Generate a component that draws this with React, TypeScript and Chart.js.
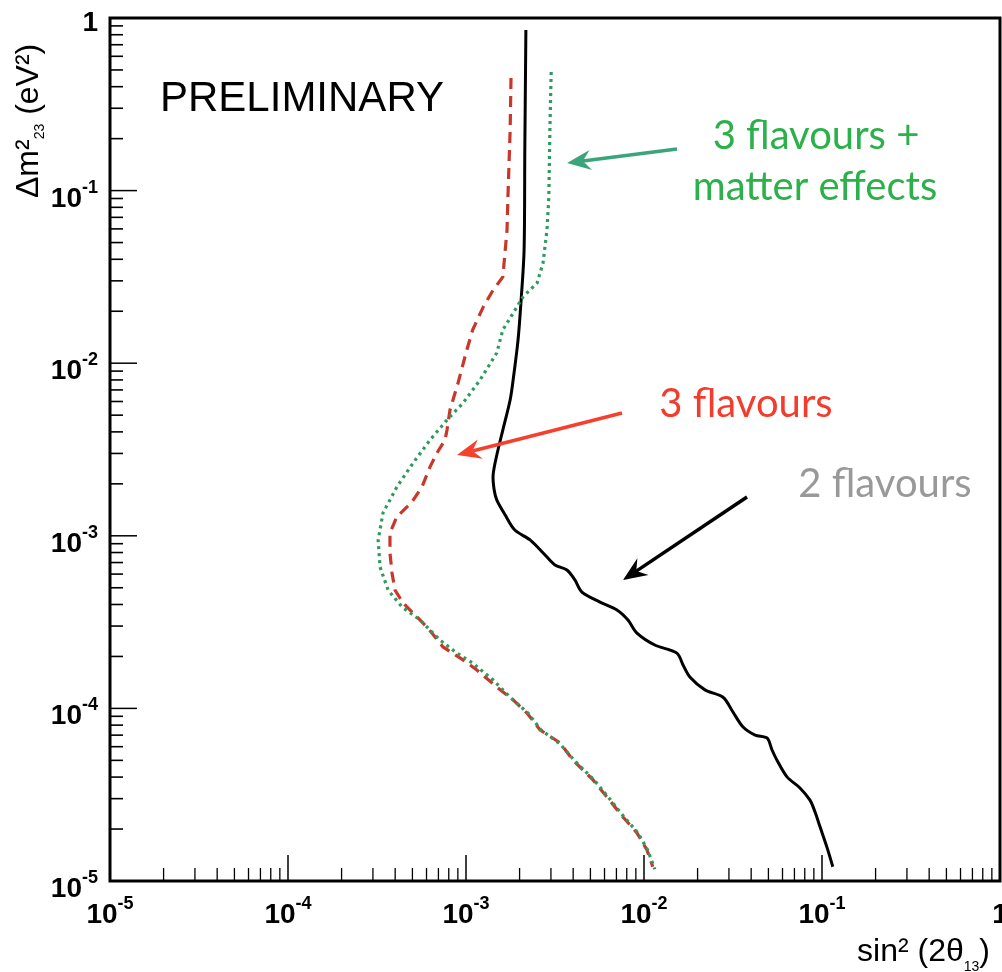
import React, { useEffect, useRef } from "react";
import { Chart, registerables } from "chart.js";

Chart.register(...registerables);

// ---- data ----
// 2 flavours (solid black)
const twoFlavX = [2.17e-3, 2.14e-3, 2.12e-3, 2.04e-3, 1.96e-3, 1.84e-3, 1.77e-3, 1.61e-3, 1.49e-3, 1.42e-3, 1.44e-3, 1.49e-3, 1.66e-3, 1.88e-3, 2.29e-3, 2.78e-3, 3.16e-3, 3.69e-3, 4.09e-3, 4.48e-3, 5.66e-3, 7.05e-3, 8.13e-3, 9.13e-3, 1.15e-2, 1.53e-2, 1.66e-2, 1.81e-2, 2.2e-2, 2.78e-2, 3.16e-2, 3.6e-2, 4.21e-2, 4.91e-2, 5.24e-2, 5.58e-2, 6.36e-2, 7.52e-2, 8.56e-2, 9.14e-2, 9.75e-2, 0.107, 0.115];
const twoFlavY = [0.852, 0.172, 0.0453, 0.0232, 0.0136, 8.0e-3, 6.12e-3, 4.1e-3, 2.94e-3, 2.25e-3, 1.84e-3, 1.61e-3, 1.32e-3, 1.08e-3, 9.46e-4, 7.74e-4, 6.77e-4, 6.34e-4, 5.55e-4, 4.72e-4, 4.13e-4, 3.72e-4, 3.25e-4, 2.73e-4, 2.33e-4, 2.09e-4, 1.78e-4, 1.52e-4, 1.28e-4, 1.16e-4, 9.53e-5, 7.8e-5, 7.01e-5, 6.74e-5, 5.74e-5, 5.02e-5, 4.01e-5, 3.46e-5, 2.94e-5, 2.51e-5, 2.06e-5, 1.55e-5, 1.21e-5];

// 3 flavours (dashed red)
const threeFlavX = [1.79e-3, 1.77e-3, 1.72e-3, 1.7e-3, 1.61e-3, 1.42e-3, 1.25e-3, 1.09e-3, 1.01e-3, 9.02e-4, 8.13e-4, 7.82e-4, 7.62e-4, 6.87e-4, 6.28e-4, 5.66e-4, 4.97e-4, 4.09e-4, 3.74e-4, 3.74e-4, 3.84e-4, 3.99e-4, 4.43e-4, 5.04e-4, 6.04e-4, 7.43e-4, 9.62e-4, 1.15e-3, 1.49e-3, 1.84e-3, 2.2e-3, 2.61e-3, 3.38e-3, 3.99e-3, 5.17e-3, 6.19e-3, 7.62e-3, 9.13e-3, 1.04e-2, 1.12e-2];
const threeFlavY = [0.449, 0.224, 0.0918, 0.0591, 0.0316, 0.0265, 0.0212, 0.0156, 0.0119, 7.68e-3, 5.36e-3, 4.1e-3, 3.59e-3, 3.02e-3, 2.51e-3, 1.92e-3, 1.57e-3, 1.29e-3, 1.04e-3, 7.95e-4, 6.09e-4, 4.85e-4, 4.08e-4, 3.57e-4, 2.96e-4, 2.27e-4, 1.91e-4, 1.67e-4, 1.33e-4, 1.12e-4, 9.4e-5, 7.5e-5, 6.31e-5, 5.02e-5, 3.85e-5, 3.07e-5, 2.35e-5, 1.9e-5, 1.51e-5, 1.21e-5];

// 3 flavours + matter effects (dotted green)
const matterX = [3.01e-3, 2.96e-3, 2.92e-3, 2.85e-3, 2.71e-3, 2.51e-3, 2.09e-3, 1.84e-3, 1.61e-3, 1.49e-3, 1.2e-3, 9.62e-4, 7.82e-4, 6.28e-4, 5.04e-4, 4.09e-4, 3.42e-4, 3.21e-4, 3.29e-4, 3.65e-4, 4.37e-4, 5.52e-4, 7.14e-4, 8.89e-4, 1.09e-3, 1.42e-3, 1.77e-3, 2.23e-3, 2.64e-3, 3.38e-3, 4.04e-3, 5.24e-3, 6.28e-3, 7.73e-3, 9.25e-3, 1.05e-2, 1.15e-2];
const matterY = [0.486, 0.224, 0.0918, 0.0591, 0.0381, 0.0292, 0.0242, 0.0195, 0.0156, 0.0115, 8.0e-3, 5.88e-3, 4.69e-3, 3.59e-3, 2.64e-3, 1.92e-3, 1.36e-3, 9.46e-4, 6.59e-4, 4.85e-4, 3.87e-4, 3.25e-4, 2.49e-4, 2.09e-4, 1.83e-4, 1.46e-4, 1.16e-4, 9.4e-5, 7.5e-5, 6.22e-5, 5.02e-5, 3.85e-5, 3.07e-5, 2.35e-5, 1.9e-5, 1.51e-5, 1.17e-5];

// axis ticks
const majorTicks = [1e-5, 1e-4, 1e-3, 1e-2, 1e-1, 1];
const tickBase = ["10", "10", "10", "10", "10", "1"];
const tickExp = ["-5", "-4", "-3", "-2", "-1", ""];
const minorMultipliers = [2, 3, 4, 5, 6, 7, 8, 9];

const BOLD = "bold 28px 'Liberation Sans', Arial, sans-serif";
const BOLD_SUP = "bold 18px 'Liberation Sans', Arial, sans-serif";
const REG = (s: number) => `${s}px 'Liberation Sans', Arial, sans-serif`;
const NOTE = "40px Lato, 'Open Sans', sans-serif";

function drawArrow(ctx: CanvasRenderingContext2D, x1: number, y1: number, x2: number, y2: number, color: string) {
  const ang = Math.atan2(y2 - y1, x2 - x1);
  const headLen = 24, headW = 10, notch = 16;
  ctx.save();
  ctx.strokeStyle = color;
  ctx.fillStyle = color;
  ctx.lineWidth = 3.5;
  ctx.beginPath();
  ctx.moveTo(x1, y1);
  ctx.lineTo(x2 - Math.cos(ang) * notch, y2 - Math.sin(ang) * notch);
  ctx.stroke();
  const bx = x2 - Math.cos(ang) * headLen, by = y2 - Math.sin(ang) * headLen;
  const nx = -Math.sin(ang), ny = Math.cos(ang);
  ctx.beginPath();
  ctx.moveTo(x2, y2);
  ctx.lineTo(bx + nx * headW, by + ny * headW);
  ctx.lineTo(x2 - Math.cos(ang) * notch, y2 - Math.sin(ang) * notch);
  ctx.lineTo(bx - nx * headW, by - ny * headW);
  ctx.closePath();
  ctx.fill();
  ctx.restore();
}

type Part = { t: string; font: string; dy: number };
function partsWidth(ctx: CanvasRenderingContext2D, parts: Part[]) {
  let w = 0;
  for (const p of parts) { ctx.font = p.font; w += ctx.measureText(p.t).width; }
  return w;
}
function drawParts(ctx: CanvasRenderingContext2D, parts: Part[], x: number, y: number) {
  let cx = x;
  for (const p of parts) {
    ctx.font = p.font;
    ctx.fillText(p.t, cx, y + p.dy);
    cx += ctx.measureText(p.t).width;
  }
}

const axesPlugin = {
  id: "rootAxes",
  afterDatasetsDraw(chart: any) {
    const ctx: CanvasRenderingContext2D = chart.ctx;
    const xs = chart.scales.x, ys = chart.scales.y;
    const { left, right, top, bottom } = chart.chartArea;
    ctx.save();
    ctx.fillStyle = "#000";
    ctx.strokeStyle = "#000";
    ctx.textAlign = "left";
    ctx.textBaseline = "alphabetic";

    // ticks
    for (let i = 0; i < majorTicks.length - 1; i++) {
      const dec = majorTicks[i];
      ctx.lineWidth = 1.5;
      let px = xs.getPixelForValue(dec);
      ctx.beginPath(); ctx.moveTo(px, bottom); ctx.lineTo(px, bottom - 26); ctx.stroke();
      let py = ys.getPixelForValue(dec);
      ctx.beginPath(); ctx.moveTo(left, py); ctx.lineTo(left + 27, py); ctx.stroke();
      for (const m of minorMultipliers) {
        const v = dec * m;
        px = xs.getPixelForValue(v);
        ctx.lineWidth = 1.3;
        ctx.beginPath(); ctx.moveTo(px, bottom); ctx.lineTo(px, bottom - 13); ctx.stroke();
        py = ys.getPixelForValue(v);
        ctx.lineWidth = 1.6;
        ctx.beginPath(); ctx.moveTo(left, py); ctx.lineTo(left + 13, py); ctx.stroke();
      }
    }

    // frame
    ctx.lineWidth = 3;
    ctx.strokeRect(left, top, right - left, bottom - top);

    // tick labels
    for (let i = 0; i < majorTicks.length; i++) {
      const v = majorTicks[i];
      ctx.font = BOLD;
      const bw = ctx.measureText(tickBase[i]).width;
      ctx.font = BOLD_SUP;
      const ew = tickExp[i] ? ctx.measureText(tickExp[i]).width : 0;
      // x
      const px = xs.getPixelForValue(v);
      const sx = px - (bw + ew) / 2;
      ctx.font = BOLD; ctx.fillText(tickBase[i], sx, 923);
      if (ew) { ctx.font = BOLD_SUP; ctx.fillText(tickExp[i], sx + bw, 909); }
      // y
      const py = ys.getPixelForValue(v);
      const rx = 98 - ew - bw;
      const base = tickExp[i] ? py + 16 : py + 13;
      ctx.font = BOLD; ctx.fillText(tickBase[i], rx, base);
      if (ew) { ctx.font = BOLD_SUP; ctx.fillText(tickExp[i], rx + bw, base - 14); }
    }

    // axis titles
    const xTitle: Part[] = [
      { t: "sin² (2θ", font: REG(32), dy: 0 },
      { t: "13", font: REG(14), dy: 10 },
      { t: ")", font: REG(32), dy: 0 },
    ];
    drawParts(ctx, xTitle, 990 - partsWidth(ctx, xTitle), 961);

    ctx.save();
    ctx.translate(38, 198);
    ctx.rotate(-Math.PI / 2);
    drawParts(ctx, [
      { t: "Δm²", font: REG(32), dy: 0 },
      { t: "23", font: REG(14), dy: 6 },
      { t: " (eV²)", font: REG(32), dy: 0 },
    ], 0, 0);
    ctx.restore();

    // annotations
    ctx.font = REG(42);
    ctx.fillStyle = "#000";
    ctx.fillText("PRELIMINARY", 160, 111);

    ctx.font = NOTE;
    ctx.textAlign = "center";
    ctx.fillStyle = "#2bb04a";
    ctx.fillText("3 flavours +", 816, 149);
    ctx.fillText("matter effects", 815, 200);
    ctx.fillStyle = "#f23c2c";
    ctx.fillText("3 flavours", 746, 417);
    ctx.fillStyle = "#999999";
    ctx.fillText("2 flavours", 885, 497);

    drawArrow(ctx, 677, 149, 567, 163, "#3aa57a");
    drawArrow(ctx, 622, 413, 457, 455, "#f5402c");
    drawArrow(ctx, 747, 497, 623, 580, "#000000");

    ctx.restore();
  },
};

const toPoints = (xs: number[], ys: number[]) => xs.map((x, i) => ({ x, y: ys[i] }));

export default function App() {
  const ref = useRef<HTMLCanvasElement>(null);
  useEffect(() => {
    document.body.style.margin = "0";
    const canvas = ref.current!;
    const chart = new Chart(canvas, {
      type: "scatter",
      data: {
        datasets: [
          {
            label: "3 flavours + matter effects",
            data: toPoints(matterX, matterY),
            showLine: true,
            borderColor: "#2e9a5e",
            borderWidth: 3.2,
            borderDash: [3, 4],
            pointRadius: 0,
            fill: false,
          },
          {
            label: "3 flavours",
            data: toPoints(threeFlavX, threeFlavY),
            showLine: true,
            borderColor: "#c9372b",
            borderWidth: 3.2,
            borderDash: [11, 7],
            pointRadius: 0,
            fill: false,
          },
          {
            label: "2 flavours",
            data: toPoints(twoFlavX, twoFlavY),
            showLine: true,
            borderColor: "#000000",
            borderWidth: 3,
            pointRadius: 0,
            fill: false,
            tension: 0.3,
          },
        ],
      },
      options: {
        responsive: false,
        animation: false,
        events: [],
        layout: { padding: { left: 110, right: 2, top: 18, bottom: 91 } },
        scales: {
          x: { type: "logarithmic", min: 1e-5, max: 1, display: false },
          y: { type: "logarithmic", min: 1e-5, max: 1, display: false },
        },
        plugins: { legend: { display: false }, tooltip: { enabled: false } },
      },
      plugins: [axesPlugin],
    } as any);
    return () => chart.destroy();
  }, []);
  return (
    <canvas
      ref={ref}
      width={1002}
      height={972}
      style={{ position: "absolute", left: 0, top: 0, width: 1002, height: 972 }}
    />
  );
}
